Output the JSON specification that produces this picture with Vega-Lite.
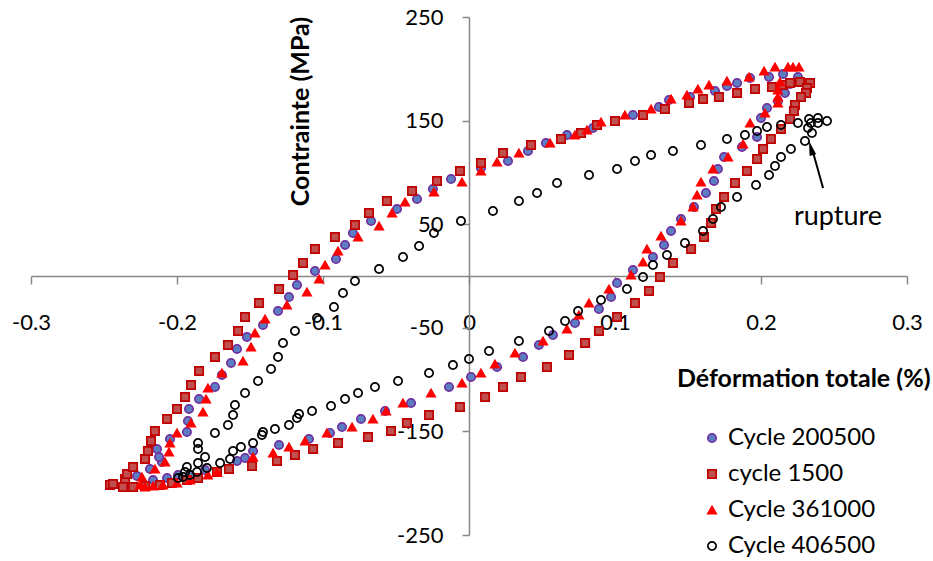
{
  "$schema": "https://vega.github.io/schema/vega-lite/v6.json",
  "width": 876,
  "height": 518,
  "autosize": {"type": "none"},
  "padding": {"left": 31, "top": 17, "right": 26, "bottom": 26},
  "background": "white",
  "config": {
    "font": "Lato",
    "view": {"stroke": null},
    "axis": {"grid": false}
  },
  "datasets": {
    "pts": [
      {"c":"Cycle 200500","x":-0.2274,"y":-193.1},{"c":"Cycle 200500","x":-0.2185,"y":-186.3},{"c":"Cycle 200500","x":-0.2103,"y":-179.5},{"c":"Cycle 200500","x":-0.2123,"y":-174.7},{"c":"Cycle 200500","x":-0.2137,"y":-167.0},{"c":"Cycle 200500","x":-0.2048,"y":-157.3},{"c":"Cycle 200500","x":-0.1932,"y":-150.6},{"c":"Cycle 200500","x":-0.1925,"y":-140.0},{"c":"Cycle 200500","x":-0.1918,"y":-128.4},{"c":"Cycle 200500","x":-0.1849,"y":-118.7},{"c":"Cycle 200500","x":-0.1740,"y":-107.1},{"c":"Cycle 200500","x":-0.1692,"y":-95.6},{"c":"Cycle 200500","x":-0.1630,"y":-84.0},{"c":"Cycle 200500","x":-0.1589,"y":-70.5},{"c":"Cycle 200500","x":-0.1521,"y":-58.9},{"c":"Cycle 200500","x":-0.1411,"y":-47.3},{"c":"Cycle 200500","x":-0.1308,"y":-33.8},{"c":"Cycle 200500","x":-0.1233,"y":-20.3},{"c":"Cycle 200500","x":-0.1178,"y":-8.7},{"c":"Cycle 200500","x":-0.1055,"y":4.8},{"c":"Cycle 200500","x":-0.0911,"y":16.4},{"c":"Cycle 200500","x":-0.0849,"y":29.9},{"c":"Cycle 200500","x":-0.0795,"y":41.5},{"c":"Cycle 200500","x":-0.0671,"y":53.1},{"c":"Cycle 200500","x":-0.0493,"y":64.7},{"c":"Cycle 200500","x":-0.0356,"y":74.3},{"c":"Cycle 200500","x":-0.0247,"y":84.0},{"c":"Cycle 200500","x":-0.0123,"y":93.6},{"c":"Cycle 200500","x":0.0082,"y":104.3},{"c":"Cycle 200500","x":0.0267,"y":111.0},{"c":"Cycle 200500","x":0.0404,"y":120.7},{"c":"Cycle 200500","x":0.0527,"y":128.4},{"c":"Cycle 200500","x":0.0671,"y":136.1},{"c":"Cycle 200500","x":0.0849,"y":142.9},{"c":"Cycle 200500","x":0.1000,"y":149.6},{"c":"Cycle 200500","x":0.1123,"y":155.4},{"c":"Cycle 200500","x":0.1301,"y":163.1},{"c":"Cycle 200500","x":0.1370,"y":169.9},{"c":"Cycle 200500","x":0.1514,"y":172.8},{"c":"Cycle 200500","x":0.1685,"y":178.6},{"c":"Cycle 200500","x":0.1767,"y":183.4},{"c":"Cycle 200500","x":0.1836,"y":186.3},{"c":"Cycle 200500","x":0.1925,"y":191.1},{"c":"Cycle 200500","x":0.2055,"y":192.1},{"c":"Cycle 200500","x":0.2151,"y":195.0},{"c":"Cycle 200500","x":0.2253,"y":192.1},{"c":"Cycle 200500","x":0.2199,"y":185.3},{"c":"Cycle 200500","x":0.2164,"y":176.6},{"c":"Cycle 200500","x":0.2116,"y":168.9},{"c":"Cycle 200500","x":0.2041,"y":162.2},{"c":"Cycle 200500","x":0.2000,"y":152.5},{"c":"Cycle 200500","x":0.1973,"y":134.2},{"c":"Cycle 200500","x":0.1870,"y":124.5},{"c":"Cycle 200500","x":0.1747,"y":114.9},{"c":"Cycle 200500","x":0.1705,"y":103.3},{"c":"Cycle 200500","x":0.1678,"y":91.7},{"c":"Cycle 200500","x":0.1623,"y":80.1},{"c":"Cycle 200500","x":0.1541,"y":66.6},{"c":"Cycle 200500","x":0.1452,"y":55.0},{"c":"Cycle 200500","x":0.1384,"y":43.4},{"c":"Cycle 200500","x":0.1336,"y":29.9},{"c":"Cycle 200500","x":0.1260,"y":18.3},{"c":"Cycle 200500","x":0.1123,"y":5.8},{"c":"Cycle 200500","x":0.1014,"y":-6.8},{"c":"Cycle 200500","x":0.0973,"y":-20.3},{"c":"Cycle 200500","x":0.0890,"y":-31.9},{"c":"Cycle 200500","x":0.0726,"y":-45.4},{"c":"Cycle 200500","x":0.0575,"y":-57.0},{"c":"Cycle 200500","x":0.0479,"y":-66.6},{"c":"Cycle 200500","x":0.0370,"y":-78.2},{"c":"Cycle 200500","x":0.0192,"y":-87.8},{"c":"Cycle 200500","x":0.0014,"y":-97.5},{"c":"Cycle 200500","x":-0.0137,"y":-107.1},{"c":"Cycle 200500","x":-0.0397,"y":-122.6},{"c":"Cycle 200500","x":-0.0575,"y":-130.3},{"c":"Cycle 200500","x":-0.0740,"y":-138.0},{"c":"Cycle 200500","x":-0.0870,"y":-145.8},{"c":"Cycle 200500","x":-0.0952,"y":-151.5},{"c":"Cycle 200500","x":-0.1096,"y":-157.3},{"c":"Cycle 200500","x":-0.1301,"y":-163.1},{"c":"Cycle 200500","x":-0.1479,"y":-168.9},{"c":"Cycle 200500","x":-0.1534,"y":-175.7},{"c":"Cycle 200500","x":-0.1589,"y":-178.6},{"c":"Cycle 200500","x":-0.1808,"y":-187.3},{"c":"Cycle 200500","x":-0.1911,"y":-192.1},{"c":"Cycle 200500","x":-0.1993,"y":-192.1},{"c":"Cycle 200500","x":-0.2068,"y":-195.0},{"c":"Cycle 200500","x":-0.2164,"y":-196.9},
      {"c":"cycle 1500","x":-0.2459,"y":-201.7},{"c":"cycle 1500","x":-0.2438,"y":-200.8},{"c":"cycle 1500","x":-0.2356,"y":-196.0},{"c":"cycle 1500","x":-0.2342,"y":-191.1},{"c":"cycle 1500","x":-0.2301,"y":-184.4},{"c":"cycle 1500","x":-0.2219,"y":-176.6},{"c":"cycle 1500","x":-0.2199,"y":-168.9},{"c":"cycle 1500","x":-0.2178,"y":-159.3},{"c":"cycle 1500","x":-0.2151,"y":-149.6},{"c":"cycle 1500","x":-0.2068,"y":-138.0},{"c":"cycle 1500","x":-0.2000,"y":-128.4},{"c":"cycle 1500","x":-0.1945,"y":-116.8},{"c":"cycle 1500","x":-0.1904,"y":-105.2},{"c":"cycle 1500","x":-0.1849,"y":-91.7},{"c":"cycle 1500","x":-0.1740,"y":-78.2},{"c":"cycle 1500","x":-0.1651,"y":-66.6},{"c":"cycle 1500","x":-0.1582,"y":-53.1},{"c":"cycle 1500","x":-0.1534,"y":-39.6},{"c":"cycle 1500","x":-0.1438,"y":-26.1},{"c":"cycle 1500","x":-0.1301,"y":-12.5},{"c":"cycle 1500","x":-0.1205,"y":1.0},{"c":"cycle 1500","x":-0.1137,"y":12.5},{"c":"cycle 1500","x":-0.1055,"y":26.1},{"c":"cycle 1500","x":-0.0918,"y":37.6},{"c":"cycle 1500","x":-0.0781,"y":49.2},{"c":"cycle 1500","x":-0.0685,"y":60.8},{"c":"cycle 1500","x":-0.0562,"y":72.4},{"c":"cycle 1500","x":-0.0390,"y":82.0},{"c":"cycle 1500","x":-0.0219,"y":91.7},{"c":"cycle 1500","x":-0.0062,"y":101.4},{"c":"cycle 1500","x":0.0082,"y":109.1},{"c":"cycle 1500","x":0.0233,"y":118.7},{"c":"cycle 1500","x":0.0425,"y":126.4},{"c":"cycle 1500","x":0.0630,"y":132.2},{"c":"cycle 1500","x":0.0767,"y":138.0},{"c":"cycle 1500","x":0.0877,"y":145.8},{"c":"cycle 1500","x":0.1000,"y":149.6},{"c":"cycle 1500","x":0.1192,"y":155.4},{"c":"cycle 1500","x":0.1342,"y":161.2},{"c":"cycle 1500","x":0.1507,"y":167.0},{"c":"cycle 1500","x":0.1603,"y":170.9},{"c":"cycle 1500","x":0.1712,"y":172.8},{"c":"cycle 1500","x":0.1836,"y":176.6},{"c":"cycle 1500","x":0.1959,"y":180.5},{"c":"cycle 1500","x":0.2075,"y":182.4},{"c":"cycle 1500","x":0.2151,"y":184.4},{"c":"cycle 1500","x":0.2199,"y":186.3},{"c":"cycle 1500","x":0.2267,"y":187.3},{"c":"cycle 1500","x":0.2336,"y":186.3},{"c":"cycle 1500","x":0.2315,"y":181.5},{"c":"cycle 1500","x":0.2308,"y":176.6},{"c":"cycle 1500","x":0.2274,"y":172.8},{"c":"cycle 1500","x":0.2233,"y":165.1},{"c":"cycle 1500","x":0.2226,"y":159.3},{"c":"cycle 1500","x":0.2199,"y":151.5},{"c":"cycle 1500","x":0.2137,"y":141.9},{"c":"cycle 1500","x":0.2068,"y":132.2},{"c":"cycle 1500","x":0.2014,"y":122.6},{"c":"cycle 1500","x":0.1973,"y":112.9},{"c":"cycle 1500","x":0.1904,"y":101.4},{"c":"cycle 1500","x":0.1822,"y":89.8},{"c":"cycle 1500","x":0.1747,"y":76.3},{"c":"cycle 1500","x":0.1692,"y":64.7},{"c":"cycle 1500","x":0.1658,"y":51.2},{"c":"cycle 1500","x":0.1610,"y":37.6},{"c":"cycle 1500","x":0.1521,"y":26.1},{"c":"cycle 1500","x":0.1397,"y":12.5},{"c":"cycle 1500","x":0.1308,"y":-1.0},{"c":"cycle 1500","x":0.1233,"y":-14.5},{"c":"cycle 1500","x":0.1137,"y":-26.1},{"c":"cycle 1500","x":0.1014,"y":-39.6},{"c":"cycle 1500","x":0.0890,"y":-53.1},{"c":"cycle 1500","x":0.0795,"y":-64.7},{"c":"cycle 1500","x":0.0685,"y":-76.3},{"c":"cycle 1500","x":0.0534,"y":-87.8},{"c":"cycle 1500","x":0.0356,"y":-97.5},{"c":"cycle 1500","x":0.0233,"y":-107.1},{"c":"cycle 1500","x":0.0110,"y":-116.8},{"c":"cycle 1500","x":-0.0062,"y":-126.4},{"c":"cycle 1500","x":-0.0274,"y":-134.2},{"c":"cycle 1500","x":-0.0425,"y":-141.9},{"c":"cycle 1500","x":-0.0534,"y":-149.6},{"c":"cycle 1500","x":-0.0692,"y":-155.4},{"c":"cycle 1500","x":-0.0897,"y":-161.2},{"c":"cycle 1500","x":-0.1068,"y":-167.0},{"c":"cycle 1500","x":-0.1192,"y":-172.8},{"c":"cycle 1500","x":-0.1315,"y":-178.6},{"c":"cycle 1500","x":-0.1486,"y":-183.4},{"c":"cycle 1500","x":-0.1644,"y":-186.3},{"c":"cycle 1500","x":-0.1726,"y":-189.2},{"c":"cycle 1500","x":-0.1856,"y":-195.0},{"c":"cycle 1500","x":-0.1932,"y":-196.9},{"c":"cycle 1500","x":-0.2034,"y":-199.8},{"c":"cycle 1500","x":-0.2116,"y":-201.7},{"c":"cycle 1500","x":-0.2219,"y":-202.7},{"c":"cycle 1500","x":-0.2301,"y":-203.7},{"c":"cycle 1500","x":-0.2370,"y":-203.7},
      {"c":"Cycle 361000","x":-0.2253,"y":-201.7},{"c":"Cycle 361000","x":-0.2240,"y":-194.0},{"c":"Cycle 361000","x":-0.2151,"y":-186.3},{"c":"Cycle 361000","x":-0.2082,"y":-179.5},{"c":"Cycle 361000","x":-0.2055,"y":-169.9},{"c":"Cycle 361000","x":-0.2048,"y":-161.2},{"c":"Cycle 361000","x":-0.2000,"y":-151.5},{"c":"Cycle 361000","x":-0.1904,"y":-141.9},{"c":"Cycle 361000","x":-0.1822,"y":-131.3},{"c":"Cycle 361000","x":-0.1801,"y":-118.7},{"c":"Cycle 361000","x":-0.1788,"y":-108.1},{"c":"Cycle 361000","x":-0.1692,"y":-93.6},{"c":"Cycle 361000","x":-0.1548,"y":-82.0},{"c":"Cycle 361000","x":-0.1493,"y":-68.5},{"c":"Cycle 361000","x":-0.1466,"y":-55.0},{"c":"Cycle 361000","x":-0.1397,"y":-41.5},{"c":"Cycle 361000","x":-0.1247,"y":-28.0},{"c":"Cycle 361000","x":-0.1110,"y":-15.4},{"c":"Cycle 361000","x":-0.1027,"y":-2.9},{"c":"Cycle 361000","x":-0.0986,"y":10.6},{"c":"Cycle 361000","x":-0.0897,"y":24.1},{"c":"Cycle 361000","x":-0.0760,"y":37.6},{"c":"Cycle 361000","x":-0.0616,"y":48.3},{"c":"Cycle 361000","x":-0.0527,"y":60.8},{"c":"Cycle 361000","x":-0.0438,"y":71.4},{"c":"Cycle 361000","x":-0.0240,"y":81.1},{"c":"Cycle 361000","x":-0.0048,"y":90.7},{"c":"Cycle 361000","x":0.0082,"y":101.4},{"c":"Cycle 361000","x":0.0192,"y":110.0},{"c":"Cycle 361000","x":0.0342,"y":118.7},{"c":"Cycle 361000","x":0.0555,"y":128.4},{"c":"Cycle 361000","x":0.0726,"y":136.1},{"c":"Cycle 361000","x":0.0808,"y":140.9},{"c":"Cycle 361000","x":0.0904,"y":148.7},{"c":"Cycle 361000","x":0.1068,"y":155.4},{"c":"Cycle 361000","x":0.1247,"y":161.2},{"c":"Cycle 361000","x":0.1384,"y":170.9},{"c":"Cycle 361000","x":0.1493,"y":174.7},{"c":"Cycle 361000","x":0.1568,"y":180.5},{"c":"Cycle 361000","x":0.1644,"y":184.4},{"c":"Cycle 361000","x":0.1767,"y":188.2},{"c":"Cycle 361000","x":0.1918,"y":192.1},{"c":"Cycle 361000","x":0.2021,"y":197.9},{"c":"Cycle 361000","x":0.2096,"y":201.7},{"c":"Cycle 361000","x":0.2185,"y":201.7},{"c":"Cycle 361000","x":0.2219,"y":201.7},{"c":"Cycle 361000","x":0.2260,"y":201.7},{"c":"Cycle 361000","x":0.2130,"y":187.3},{"c":"Cycle 361000","x":0.2116,"y":179.5},{"c":"Cycle 361000","x":0.2116,"y":172.8},{"c":"Cycle 361000","x":0.2116,"y":167.0},{"c":"Cycle 361000","x":0.2027,"y":157.3},{"c":"Cycle 361000","x":0.1925,"y":147.7},{"c":"Cycle 361000","x":0.1877,"y":127.4},{"c":"Cycle 361000","x":0.1774,"y":114.9},{"c":"Cycle 361000","x":0.1671,"y":103.3},{"c":"Cycle 361000","x":0.1589,"y":90.7},{"c":"Cycle 361000","x":0.1562,"y":78.2},{"c":"Cycle 361000","x":0.1534,"y":66.6},{"c":"Cycle 361000","x":0.1452,"y":53.1},{"c":"Cycle 361000","x":0.1315,"y":38.6},{"c":"Cycle 361000","x":0.1219,"y":26.1},{"c":"Cycle 361000","x":0.1192,"y":13.5},{"c":"Cycle 361000","x":0.1110,"y":1.0},{"c":"Cycle 361000","x":0.0959,"y":-12.5},{"c":"Cycle 361000","x":0.0822,"y":-26.1},{"c":"Cycle 361000","x":0.0753,"y":-37.6},{"c":"Cycle 361000","x":0.0671,"y":-51.2},{"c":"Cycle 361000","x":0.0507,"y":-62.7},{"c":"Cycle 361000","x":0.0315,"y":-74.3},{"c":"Cycle 361000","x":0.0178,"y":-84.9},{"c":"Cycle 361000","x":0.0082,"y":-93.6},{"c":"Cycle 361000","x":-0.0048,"y":-103.3},{"c":"Cycle 361000","x":-0.0260,"y":-112.9},{"c":"Cycle 361000","x":-0.0452,"y":-122.6},{"c":"Cycle 361000","x":-0.0568,"y":-130.3},{"c":"Cycle 361000","x":-0.0658,"y":-138.0},{"c":"Cycle 361000","x":-0.0801,"y":-145.8},{"c":"Cycle 361000","x":-0.0973,"y":-151.5},{"c":"Cycle 361000","x":-0.1123,"y":-159.3},{"c":"Cycle 361000","x":-0.1233,"y":-165.1},{"c":"Cycle 361000","x":-0.1342,"y":-170.9},{"c":"Cycle 361000","x":-0.1479,"y":-174.7},{"c":"Cycle 361000","x":-0.1726,"y":-189.2},{"c":"Cycle 361000","x":-0.1788,"y":-192.1},{"c":"Cycle 361000","x":-0.1911,"y":-196.9},{"c":"Cycle 361000","x":-0.2000,"y":-199.8},{"c":"Cycle 361000","x":-0.2096,"y":-201.7},{"c":"Cycle 361000","x":-0.2164,"y":-202.7},{"c":"Cycle 361000","x":-0.2219,"y":-203.7},
      {"c":"Cycle 406500","x":-0.1993,"y":-195.0},{"c":"Cycle 406500","x":-0.1945,"y":-189.2},{"c":"Cycle 406500","x":-0.1932,"y":-184.4},{"c":"Cycle 406500","x":-0.1856,"y":-180.5},{"c":"Cycle 406500","x":-0.1808,"y":-174.7},{"c":"Cycle 406500","x":-0.1856,"y":-167.0},{"c":"Cycle 406500","x":-0.1856,"y":-161.2},{"c":"Cycle 406500","x":-0.1740,"y":-151.5},{"c":"Cycle 406500","x":-0.1651,"y":-143.8},{"c":"Cycle 406500","x":-0.1616,"y":-134.2},{"c":"Cycle 406500","x":-0.1603,"y":-124.5},{"c":"Cycle 406500","x":-0.1534,"y":-112.9},{"c":"Cycle 406500","x":-0.1445,"y":-101.4},{"c":"Cycle 406500","x":-0.1356,"y":-89.8},{"c":"Cycle 406500","x":-0.1308,"y":-78.2},{"c":"Cycle 406500","x":-0.1274,"y":-64.7},{"c":"Cycle 406500","x":-0.1192,"y":-53.1},{"c":"Cycle 406500","x":-0.1041,"y":-40.5},{"c":"Cycle 406500","x":-0.0925,"y":-29.9},{"c":"Cycle 406500","x":-0.0863,"y":-16.4},{"c":"Cycle 406500","x":-0.0781,"y":-4.8},{"c":"Cycle 406500","x":-0.0616,"y":6.8},{"c":"Cycle 406500","x":-0.0452,"y":18.3},{"c":"Cycle 406500","x":-0.0342,"y":29.0},{"c":"Cycle 406500","x":-0.0240,"y":41.5},{"c":"Cycle 406500","x":-0.0055,"y":53.1},{"c":"Cycle 406500","x":0.0164,"y":62.7},{"c":"Cycle 406500","x":0.0342,"y":72.4},{"c":"Cycle 406500","x":0.0466,"y":80.1},{"c":"Cycle 406500","x":0.0603,"y":89.8},{"c":"Cycle 406500","x":0.0822,"y":97.5},{"c":"Cycle 406500","x":0.1014,"y":103.3},{"c":"Cycle 406500","x":0.1137,"y":111.0},{"c":"Cycle 406500","x":0.1247,"y":116.8},{"c":"Cycle 406500","x":0.1397,"y":120.7},{"c":"Cycle 406500","x":0.1589,"y":126.4},{"c":"Cycle 406500","x":0.1767,"y":132.2},{"c":"Cycle 406500","x":0.1890,"y":136.1},{"c":"Cycle 406500","x":0.1973,"y":140.0},{"c":"Cycle 406500","x":0.2041,"y":143.8},{"c":"Cycle 406500","x":0.2137,"y":145.8},{"c":"Cycle 406500","x":0.2253,"y":147.7},{"c":"Cycle 406500","x":0.2329,"y":151.5},{"c":"Cycle 406500","x":0.2390,"y":152.5},{"c":"Cycle 406500","x":0.2452,"y":149.6},{"c":"Cycle 406500","x":0.2390,"y":147.7},{"c":"Cycle 406500","x":0.2342,"y":147.7},{"c":"Cycle 406500","x":0.2322,"y":142.9},{"c":"Cycle 406500","x":0.2349,"y":138.0},{"c":"Cycle 406500","x":0.2301,"y":130.3},{"c":"Cycle 406500","x":0.2205,"y":122.6},{"c":"Cycle 406500","x":0.2137,"y":114.9},{"c":"Cycle 406500","x":0.2096,"y":106.2},{"c":"Cycle 406500","x":0.2055,"y":97.5},{"c":"Cycle 406500","x":0.1966,"y":87.8},{"c":"Cycle 406500","x":0.1836,"y":76.3},{"c":"Cycle 406500","x":0.1726,"y":66.6},{"c":"Cycle 406500","x":0.1671,"y":55.0},{"c":"Cycle 406500","x":0.1603,"y":43.4},{"c":"Cycle 406500","x":0.1479,"y":31.9},{"c":"Cycle 406500","x":0.1356,"y":20.3},{"c":"Cycle 406500","x":0.1260,"y":10.6},{"c":"Cycle 406500","x":0.1192,"y":-1.0},{"c":"Cycle 406500","x":0.1082,"y":-12.5},{"c":"Cycle 406500","x":0.0904,"y":-23.2},{"c":"Cycle 406500","x":0.0747,"y":-33.8},{"c":"Cycle 406500","x":0.0658,"y":-43.4},{"c":"Cycle 406500","x":0.0548,"y":-53.1},{"c":"Cycle 406500","x":0.0342,"y":-62.7},{"c":"Cycle 406500","x":0.0137,"y":-72.4},{"c":"Cycle 406500","x":0.0000,"y":-80.1},{"c":"Cycle 406500","x":-0.0110,"y":-85.9},{"c":"Cycle 406500","x":-0.0274,"y":-93.6},{"c":"Cycle 406500","x":-0.0486,"y":-101.4},{"c":"Cycle 406500","x":-0.0644,"y":-107.1},{"c":"Cycle 406500","x":-0.0760,"y":-112.9},{"c":"Cycle 406500","x":-0.0849,"y":-118.7},{"c":"Cycle 406500","x":-0.0945,"y":-125.5},{"c":"Cycle 406500","x":-0.1075,"y":-130.3},{"c":"Cycle 406500","x":-0.1164,"y":-133.2},{"c":"Cycle 406500","x":-0.1178,"y":-137.1},{"c":"Cycle 406500","x":-0.1233,"y":-143.8},{"c":"Cycle 406500","x":-0.1329,"y":-147.7},{"c":"Cycle 406500","x":-0.1411,"y":-150.6},{"c":"Cycle 406500","x":-0.1418,"y":-153.5},{"c":"Cycle 406500","x":-0.1479,"y":-161.2},{"c":"Cycle 406500","x":-0.1562,"y":-165.1},{"c":"Cycle 406500","x":-0.1616,"y":-168.9},{"c":"Cycle 406500","x":-0.1637,"y":-176.6},{"c":"Cycle 406500","x":-0.1705,"y":-180.5},{"c":"Cycle 406500","x":-0.1795,"y":-185.3},{"c":"Cycle 406500","x":-0.1863,"y":-189.2},{"c":"Cycle 406500","x":-0.1911,"y":-192.1},{"c":"Cycle 406500","x":-0.1959,"y":-194.0}
    ],
    "arrow": [{"x":0.2425,"y":84.9,"x2":0.2356,"y2":119.7}],
    "head": [{"x":0.2342,"y":123.6}],
    "note": [{"x":0.2527,"y":57,"t":"rupture"}]
  },
  "layer": [
    {
      "data": {"name": "pts"},
      "mark": {"type": "point", "filled": true, "opacity": 1, "strokeWidth": 1.7},
      "encoding": {
        "x": {
          "field": "x", "type": "quantitative",
          "scale": {"domain": [-0.3, 0.3], "nice": false, "zero": false},
          "axis": {
            "orient": "bottom", "offset": -259,
            "values": [-0.3, -0.2, -0.1, 0, 0.1, 0.2, 0.3],
            "labelExpr": "datum.value == 0 ? '0' : (datum.value < 0 ? '-' : '') + format(abs(datum.value), '.1f')",
            "labelFont": "Lato", "labelFontSize": 22, "labelColor": "#000000",
            "labelPadding": 28, "labelFlush": false, "labelOverlap": false,
            "tickSize": 8, "tickColor": "#888888", "tickWidth": 1.5,
            "domainColor": "#888888", "domainWidth": 1.5,
            "title": "Déformation totale (%)",
            "titleFont": "Lato", "titleFontSize": 25, "titleFontWeight": "bold", "titleColor": "#000000",
            "titleX": 899, "titleY": 102, "titleAlign": "right", "titleBaseline": "middle", "titleAnchor": null
          }
        },
        "y": {
          "field": "y", "type": "quantitative",
          "scale": {"domain": [-250, 250], "nice": false, "zero": false},
          "axis": {
            "orient": "left", "offset": -438,
            "values": [-250, -150, -50, 50, 150, 250],
            "labelExpr": "(datum.value < 0 ? '-' : '') + format(abs(datum.value), 'd')",
            "labelFont": "Lato", "labelFontSize": 22, "labelColor": "#000000",
            "labelPadding": 19, "labelFlush": false, "labelOverlap": false,
            "tickSize": 7, "tickColor": "#888888", "tickWidth": 1.5,
            "domainColor": "#888888", "domainWidth": 1.5,
            "title": "Contrainte (MPa)",
            "titleFont": "Lato", "titleFontSize": 25, "titleFontWeight": "bold", "titleColor": "#000000",
            "titleX": -169, "titleY": 94, "titleAngle": 270, "titleAlign": "center", "titleBaseline": "middle", "titleAnchor": null
          }
        },
        "shape": {
          "field": "c", "type": "nominal",
          "scale": {"domain": ["Cycle 200500", "cycle 1500", "Cycle 361000", "Cycle 406500"], "range": ["circle", "square", "triangle-up", "circle"]},
          "legend": {
            "title": null, "orient": "none", "legendX": 669, "legendY": 409,
            "labelFont": "Lato", "labelFontSize": 24, "labelColor": "#000000",
            "labelOffset": 4, "rowPadding": 12, "symbolStrokeWidth": 1.7
          }
        },
        "fill": {
          "field": "c", "type": "nominal",
          "scale": {"domain": ["Cycle 200500", "cycle 1500", "Cycle 361000", "Cycle 406500"], "range": ["#5B7DC1", "#C0504D", "#FF0000", "transparent"]},
          "legend": {
            "title": null, "orient": "none", "legendX": 669, "legendY": 409,
            "labelFont": "Lato", "labelFontSize": 24, "labelColor": "#000000",
            "labelOffset": 4, "rowPadding": 12, "symbolStrokeWidth": 1.7
          }
        },
        "stroke": {
          "field": "c", "type": "nominal",
          "scale": {"domain": ["Cycle 200500", "cycle 1500", "Cycle 361000", "Cycle 406500"], "range": ["#7030A0", "#C00000", "#FF0000", "#000000"]},
          "legend": {
            "title": null, "orient": "none", "legendX": 669, "legendY": 409,
            "labelFont": "Lato", "labelFontSize": 24, "labelColor": "#000000",
            "labelOffset": 4, "rowPadding": 12, "symbolStrokeWidth": 1.7
          }
        },
        "size": {
          "field": "c", "type": "nominal",
          "scale": {"domain": ["Cycle 200500", "cycle 1500", "Cycle 361000", "Cycle 406500"], "range": [70, 68, 115, 60]},
          "legend": {
            "title": null, "orient": "none", "legendX": 669, "legendY": 409,
            "labelFont": "Lato", "labelFontSize": 24, "labelColor": "#000000",
            "labelOffset": 4, "rowPadding": 12, "symbolStrokeWidth": 1.7
          }
        }
      }
    },
    {
      "data": {"name": "arrow"},
      "mark": {"type": "rule", "color": "#000000", "strokeWidth": 2},
      "encoding": {
        "x": {"field": "x", "type": "quantitative"},
        "y": {"field": "y", "type": "quantitative"},
        "x2": {"field": "x2"},
        "y2": {"field": "y2"}
      }
    },
    {
      "data": {"name": "head"},
      "mark": {"type": "point", "shape": "M0,-1L0.45,1L-0.45,1Z", "filled": true, "color": "#000000", "opacity": 1, "size": 225, "angle": -15, "strokeWidth": 0},
      "encoding": {
        "x": {"field": "x", "type": "quantitative"},
        "y": {"field": "y", "type": "quantitative"}
      }
    },
    {
      "data": {"name": "note"},
      "mark": {"type": "text", "font": "Lato", "fontSize": 27, "color": "#000000", "align": "center", "baseline": "middle"},
      "encoding": {
        "x": {"field": "x", "type": "quantitative"},
        "y": {"field": "y", "type": "quantitative"},
        "text": {"field": "t"}
      }
    }
  ]
}
